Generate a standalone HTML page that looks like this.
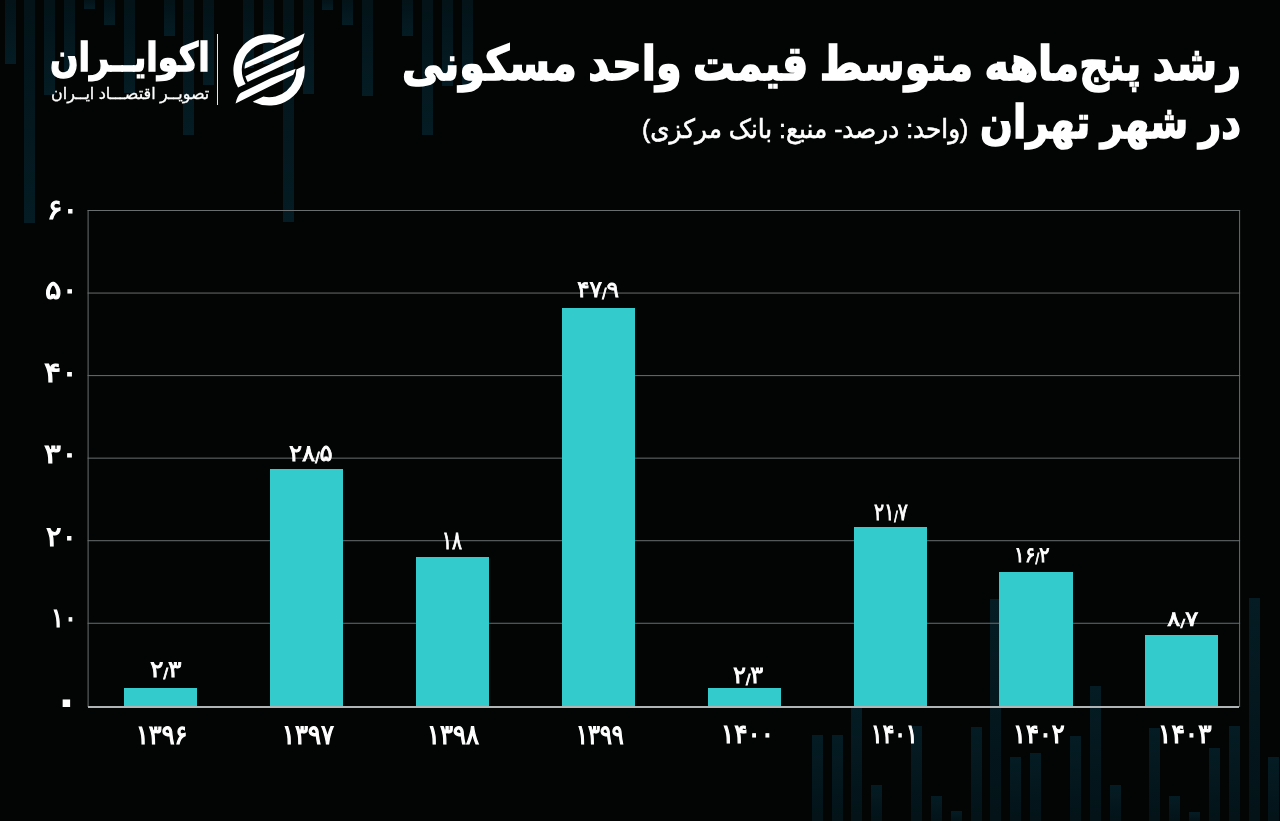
<!DOCTYPE html>
<html lang="fa">
<head>
<meta charset="utf-8">
<title>رشد پنج‌ماهه متوسط قیمت واحد مسکونی در شهر تهران</title>
<style>
html,body{margin:0;padding:0;background:#020504;}
body{width:1280px;height:821px;overflow:hidden;position:relative;font-family:"Liberation Sans", "DejaVu Sans", sans-serif;color:#fff;}
#stage{position:absolute;left:0;top:0;width:1280px;height:821px;overflow:hidden;background:#020504;}
.deco{position:absolute;width:11px;}
.deco.t{top:0;background:linear-gradient(to bottom,#031318,#051c24);}
.deco.b{bottom:0;background:linear-gradient(to top,#031318,#051c24);}
.axis{position:absolute;left:88px;width:1151px;top:705.8px;height:2.4px;background:#b2b5b5;}
.bar{position:absolute;width:73.3px;background:#33cbcc;}
.s{font-size:.64em;vertical-align:-.13em;}
.tx{position:absolute;white-space:nowrap;line-height:1;direction:rtl;transform-origin:0 0;font-weight:bold;}

</style>
</head>
<body>
<div id="stage">
<!-- decorative background bars -->
<div class="deco t" style="left:4.5px;height:64px"></div>
<div class="deco t" style="left:24.4px;height:223px"></div>
<div class="deco t" style="left:44.2px;height:95px"></div>
<div class="deco t" style="left:64.1px;height:73px"></div>
<div class="deco t" style="left:84.0px;height:9px"></div>
<div class="deco t" style="left:103.9px;height:25px"></div>
<div class="deco t" style="left:123.7px;height:93px"></div>
<div class="deco t" style="left:163.5px;height:36px"></div>
<div class="deco t" style="left:183.3px;height:135px"></div>
<div class="deco t" style="left:203.2px;height:85px"></div>
<div class="deco t" style="left:242.9px;height:68px"></div>
<div class="deco t" style="left:262.8px;height:64px"></div>
<div class="deco t" style="left:282.7px;height:222px"></div>
<div class="deco t" style="left:302.6px;height:94px"></div>
<div class="deco t" style="left:322.4px;height:10px"></div>
<div class="deco t" style="left:342.3px;height:25px"></div>
<div class="deco t" style="left:362.2px;height:95.5px"></div>
<div class="deco t" style="left:401.9px;height:36px"></div>
<div class="deco t" style="left:421.8px;height:134.5px"></div>
<div class="deco t" style="left:441.6px;height:86px"></div>
<div class="deco t" style="left:461.5px;height:86px"></div>
<div class="deco b" style="left:1268.3px;height:64px"></div>
<div class="deco b" style="left:1248.5px;height:223px"></div>
<div class="deco b" style="left:1228.6px;height:95px"></div>
<div class="deco b" style="left:1208.8px;height:73px"></div>
<div class="deco b" style="left:1188.9px;height:9px"></div>
<div class="deco b" style="left:1169.0px;height:25px"></div>
<div class="deco b" style="left:1149.2px;height:93px"></div>
<div class="deco b" style="left:1109.5px;height:36px"></div>
<div class="deco b" style="left:1089.6px;height:135px"></div>
<div class="deco b" style="left:1069.8px;height:85px"></div>
<div class="deco b" style="left:1030.1px;height:68px"></div>
<div class="deco b" style="left:1010.2px;height:64px"></div>
<div class="deco b" style="left:990.4px;height:222px"></div>
<div class="deco b" style="left:970.5px;height:94px"></div>
<div class="deco b" style="left:950.7px;height:10px"></div>
<div class="deco b" style="left:930.8px;height:25px"></div>
<div class="deco b" style="left:911.0px;height:95.5px"></div>
<div class="deco b" style="left:871.3px;height:36px"></div>
<div class="deco b" style="left:851.4px;height:113px"></div>
<div class="deco b" style="left:831.6px;height:86px"></div>
<div class="deco b" style="left:811.8px;height:86px"></div>
<!-- logo -->
<svg style="position:absolute;left:229px;top:30px" width="80" height="80" viewBox="-40.1 -39.9 80 80" fill="#fff">
<path d="M16.32 -31.75 A35.7 35.7 0 0 0 -31.06 17.60 L-23.43 14.01 A27.3 27.3 0 0 1 5.69 -26.70 Z"/>
<path d="M35.44 -4.33 A35.7 35.7 0 0 1 -16.32 31.75 L-5.69 26.70 A27.3 27.3 0 0 0 27.30 -0.47 Z"/>
<path d="M-24.57 -1.13 A24.6 24.6 0 0 1 -23.54 -7.13 L35.50 -36.65 Q33.70 -27.84 30.10 -24.64 Z"/>
<path d="M-21.43 12.07 A24.6 24.6 0 0 1 -23.78 6.29 L30.40 -19.60 Q29.40 -13.33 25.80 -10.13 Z"/>
<path d="M-33.50 33.65 Q-32.10 26.35 -28.50 23.15 L2.00 8.20 L26.60 -1.20 A24.6 24.6 0 0 1 24.12 4.84 Z"/>
</svg>
<div class="dv" style="position:absolute;left:216.7px;top:33.5px;width:1.7px;height:71px;background:#e4e6e6"></div>
<div class="tx" id="lg1" style="left:50.40px;top:36.63px;font-size:40px;font-weight:bold;color:#fff;transform:scale(0.8366,0.9866);-webkit-text-stroke:1.4px #fff;">اکوایــران</div>
<div class="tx" id="lg2" style="left:50.68px;top:86.23px;font-size:16px;font-weight:normal;color:#fff;transform:scale(0.9997,1.0041);-webkit-text-stroke:0.3px #fff;">تصویــر اقتصـــاد ایــران</div>
<!-- title -->
<div class="tx" id="t1" style="left:401.92px;top:38.73px;font-size:40px;font-weight:bold;color:#fff;transform:scale(1.0322,1.1930);-webkit-text-stroke:1.4px #fff;">رشد پنج‌ماهه متوسط قیمت واحد مسکونی</div>
<div class="tx" id="t2" style="left:979.58px;top:98.61px;font-size:40px;font-weight:bold;color:#fff;transform:scale(0.9648,1.1536);-webkit-text-stroke:1.4px #fff;">در شهر تهران</div>
<div class="tx" id="t3" style="left:641.54px;top:115.98px;font-size:22px;font-weight:normal;color:#fff;transform:scale(1.1240,1.2053);-webkit-text-stroke:0.5px #fff;">(واحد: درصد- منبع: بانک مرکزی)</div>
<!-- chart -->
<svg style="position:absolute;left:0;top:0" width="1280" height="821" viewBox="0 0 1280 821">
<rect x="87.6" y="210.00" width="1152.5" height="1" fill="#6a6e6e"/>
<rect x="87.6" y="292.55" width="1152.5" height="1" fill="#6a6e6e"/>
<rect x="87.6" y="375.10" width="1152.5" height="1" fill="#6a6e6e"/>
<rect x="87.6" y="457.65" width="1152.5" height="1" fill="#6a6e6e"/>
<rect x="87.6" y="540.20" width="1152.5" height="1" fill="#6a6e6e"/>
<rect x="87.6" y="622.75" width="1152.5" height="1" fill="#6a6e6e"/>
<rect x="87.6" y="210" width="1" height="497" fill="#6a6e6e"/><rect x="1239.1" y="210" width="1" height="497" fill="#6a6e6e"/>
</svg>
<div class="bar" style="left:123.8px;top:688.2px;height:19.3px"></div>
<div class="bar" style="left:269.8px;top:469.2px;height:238.3px"></div>
<div class="bar" style="left:415.7px;top:556.9px;height:150.6px"></div>
<div class="bar" style="left:561.7px;top:307.8px;height:399.7px"></div>
<div class="bar" style="left:707.7px;top:688.1px;height:19.4px"></div>
<div class="bar" style="left:853.5px;top:526.7px;height:180.8px"></div>
<div class="bar" style="left:999.3px;top:572.4px;height:135.1px"></div>
<div class="bar" style="left:1145.0px;top:634.8px;height:72.7px"></div>
<div class="axis"></div>
<div class="tx" id="y0" style="left:46.52px;top:195.53px;font-size:22px;font-weight:normal;color:#fff;transform:scale(1.3160,1.2677);-webkit-text-stroke:0.9px #fff;">۶۰</div>
<div class="tx" id="y1" style="left:44.59px;top:277.59px;font-size:22px;font-weight:normal;color:#fff;transform:scale(1.3891,1.1772);-webkit-text-stroke:0.9px #fff;">۵۰</div>
<div class="tx" id="y2" style="left:44.25px;top:360.09px;font-size:22px;font-weight:normal;color:#fff;transform:scale(1.4428,1.2464);-webkit-text-stroke:0.9px #fff;">۴۰</div>
<div class="tx" id="y3" style="left:43.82px;top:440.84px;font-size:22px;font-weight:normal;color:#fff;transform:scale(1.4372,1.2180);-webkit-text-stroke:0.9px #fff;">۳۰</div>
<div class="tx" id="y4" style="left:46.47px;top:522.51px;font-size:22px;font-weight:normal;color:#fff;transform:scale(1.3082,1.2611);-webkit-text-stroke:0.9px #fff;">۲۰</div>
<div class="tx" id="y5" style="left:50.77px;top:605.13px;font-size:22px;font-weight:normal;color:#fff;transform:scale(1.0918,1.2263);-webkit-text-stroke:0.9px #fff;">۱۰</div>
<div class="tx" id="y6" style="left:52.74px;top:678.99px;font-size:22px;font-weight:normal;color:#fff;transform:scale(2.2683,2.0545);-webkit-text-stroke:0.9px #fff;">۰</div>
<div class="tx" id="v0" style="left:150.02px;top:656.95px;font-size:20px;font-weight:normal;color:#fff;transform:scale(1.2605,1.1540);-webkit-text-stroke:0.7px #fff;">۲<span class="s">/</span>۳</div>
<div class="tx" id="x0" style="left:136.00px;top:721.43px;font-size:24px;font-weight:normal;color:#fff;transform:scale(0.9959,1.1318);-webkit-text-stroke:1.1px #fff;">۱۳۹۶</div>
<div class="tx" id="v1" style="left:289.23px;top:440.87px;font-size:20px;font-weight:normal;color:#fff;transform:scale(1.2194,1.1608);-webkit-text-stroke:0.7px #fff;">۲۸<span class="s">/</span>۵</div>
<div class="tx" id="x1" style="left:281.67px;top:721.41px;font-size:24px;font-weight:normal;color:#fff;transform:scale(1.0107,1.1327);-webkit-text-stroke:1.1px #fff;">۱۳۹۷</div>
<div class="tx" id="v2" style="left:441.98px;top:527.22px;font-size:20px;font-weight:normal;color:#fff;transform:scale(0.9347,1.2761);-webkit-text-stroke:0.7px #fff;">۱۸</div>
<div class="tx" id="x2" style="left:427.44px;top:721.41px;font-size:24px;font-weight:normal;color:#fff;transform:scale(1.0107,1.1327);-webkit-text-stroke:1.1px #fff;">۱۳۹۸</div>
<div class="tx" id="v3" style="left:577.29px;top:277.57px;font-size:20px;font-weight:normal;color:#fff;transform:scale(1.1734,1.1310);-webkit-text-stroke:0.7px #fff;">۴۷<span class="s">/</span>۹</div>
<div class="tx" id="x3" style="left:575.88px;top:721.41px;font-size:24px;font-weight:normal;color:#fff;transform:scale(0.9263,1.1327);-webkit-text-stroke:1.1px #fff;">۱۳۹۹</div>
<div class="tx" id="v4" style="left:732.73px;top:663.47px;font-size:20px;font-weight:normal;color:#fff;transform:scale(1.2096,1.1739);-webkit-text-stroke:0.7px #fff;">۲<span class="s">/</span>۳</div>
<div class="tx" id="x4" style="left:720.50px;top:721.26px;font-size:24px;font-weight:normal;color:#fff;transform:scale(1.0270,1.1134);-webkit-text-stroke:1.1px #fff;">۱۴۰۰</div>
<div class="tx" id="v5" style="left:873.50px;top:500.17px;font-size:20px;font-weight:normal;color:#fff;transform:scale(0.9433,1.1739);-webkit-text-stroke:0.7px #fff;">۲۱<span class="s">/</span>۷</div>
<div class="tx" id="x5" style="left:870.90px;top:721.26px;font-size:24px;font-weight:normal;color:#fff;transform:scale(0.9024,1.1134);-webkit-text-stroke:1.1px #fff;">۱۴۰۱</div>
<div class="tx" id="v6" style="left:1013.66px;top:543.62px;font-size:20px;font-weight:normal;color:#fff;transform:scale(0.9982,1.0798);-webkit-text-stroke:0.7px #fff;">۱۶<span class="s">/</span>۲</div>
<div class="tx" id="x6" style="left:1012.54px;top:721.26px;font-size:24px;font-weight:normal;color:#fff;transform:scale(1.0042,1.1134);-webkit-text-stroke:1.1px #fff;">۱۴۰۲</div>
<div class="tx" id="v7" style="left:1166.79px;top:608.16px;font-size:20px;font-weight:normal;color:#fff;transform:scale(1.2533,1.0621);-webkit-text-stroke:0.7px #fff;">۸<span class="s">/</span>۷</div>
<div class="tx" id="x7" style="left:1158.11px;top:721.26px;font-size:24px;font-weight:normal;color:#fff;transform:scale(1.0403,1.1134);-webkit-text-stroke:1.1px #fff;">۱۴۰۳</div>
</div>
</body>
</html>
